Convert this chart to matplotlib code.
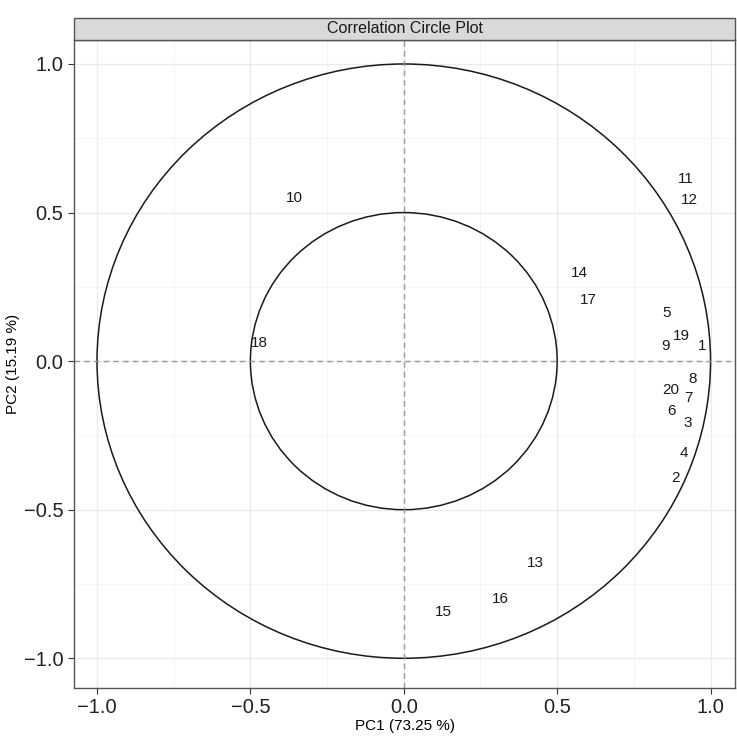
import matplotlib.pyplot as plt
from matplotlib.patches import Circle, Rectangle
from matplotlib.ticker import MultipleLocator

plt.rcParams['font.family'] = ['Liberation Sans', 'DejaVu Sans']

# Variable labels and their loadings on PC1 / PC2
labels = ['1', '2', '3', '4', '5', '6', '7', '8', '9', '10',
          '11', '12', '13', '14', '15', '16', '17', '18', '19', '20']
pc1 = [0.971, 0.886, 0.925, 0.912, 0.857, 0.873, 0.928, 0.941, 0.853, -0.358,
       0.920, 0.930, 0.430, 0.573, 0.130, 0.316, 0.603, -0.472, 0.905, 0.870]
pc2 = [0.050, -0.394, -0.209, -0.310, 0.162, -0.168, -0.125, -0.061, 0.050, 0.549,
       0.613, 0.542, -0.680, 0.296, -0.845, -0.800, 0.205, 0.061, 0.084, -0.098]
radii = [1.0, 0.5]
ticks = [-1.0, -0.5, 0.0, 0.5, 1.0]

fig = plt.figure(figsize=(7.37, 7.42), dpi=100)
ax = fig.add_axes([0.1004, 0.0728, 0.897, 0.873])

ax.set_xlim(-1.075, 1.08)
ax.set_ylim(-1.10, 1.08)

# ggplot-like grid
ax.set_xticks(ticks)
ax.set_yticks(ticks)
ax.xaxis.set_minor_locator(MultipleLocator(0.25))
ax.yaxis.set_minor_locator(MultipleLocator(0.25))
ax.grid(which='major', color='#EBEBEB', linewidth=1.0)
ax.grid(which='minor', color='#F4F4F4', linewidth=0.7)
ax.set_axisbelow(True)
ax.tick_params(which='minor', length=0)
ax.tick_params(which='major', length=4, color='#333333', labelsize=14.5,
               labelcolor='#222222')

for sp in ax.spines.values():
    sp.set_color('#555555')
    sp.set_linewidth(1.0)

# reference lines
ax.axhline(0, color='#999999', linestyle='--', linewidth=1.0, dashes=(4, 3))
ax.axvline(0, color='#999999', linestyle='--', linewidth=1.0, dashes=(4, 3))

for r in radii:
    ax.add_patch(Circle((0, 0), r, fill=False, edgecolor='#1a1a1a', linewidth=1.1))

for lab, x, y in zip(labels, pc1, pc2):
    ax.text(x, y, lab, ha='center', va='center', fontsize=11, color='#1a1a1a')

ax.set_xlabel('PC1 (73.25 %)', fontsize=11, labelpad=1)
ax.set_ylabel('PC2 (15.19 %)', fontsize=11)
ax.yaxis.set_label_coords(-0.082, 0.5)

# facet strip title
strip = Rectangle((0.1004, 0.946), 0.897, 0.030, transform=fig.transFigure,
                  facecolor='#D9D9D9', edgecolor='#555555', linewidth=1.0)
fig.patches.append(strip)
fig.text(0.1004 + 0.897 / 2, 0.961, 'Correlation Circle Plot', ha='center',
         va='center', fontsize=11.5, color='#1a1a1a')

fig.savefig('out.png', dpi=100)
